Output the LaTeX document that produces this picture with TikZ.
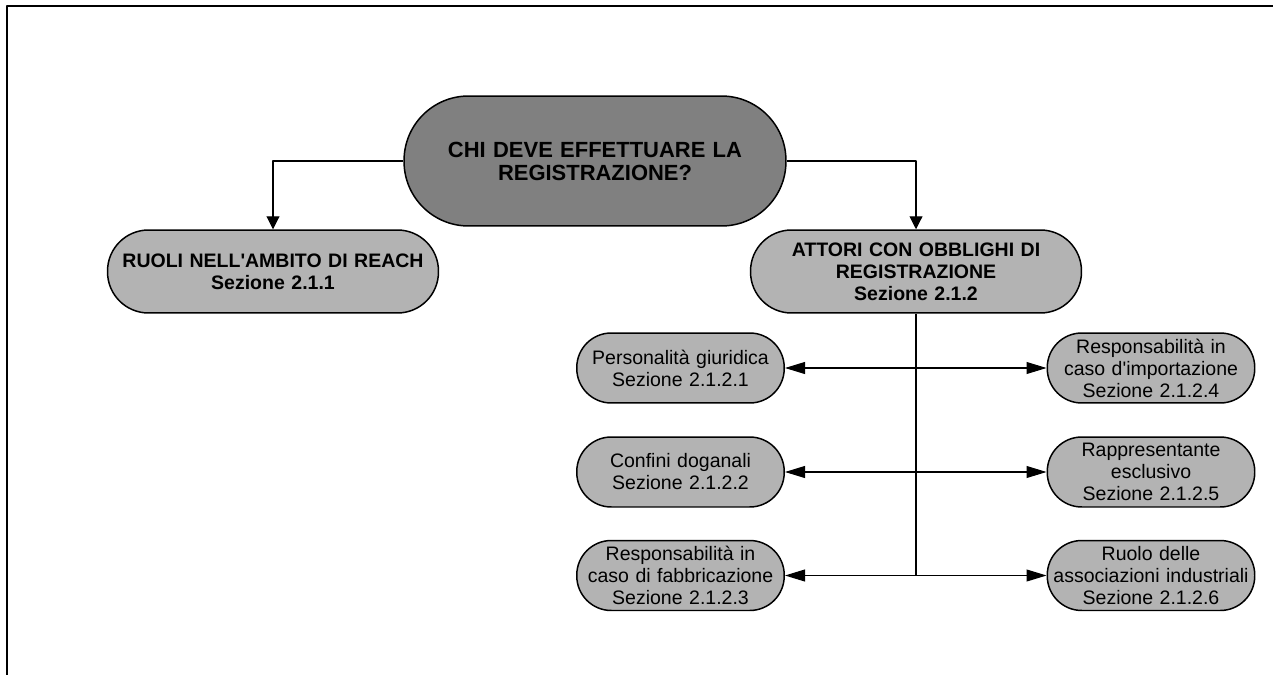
\documentclass[tikz,border=0pt]{standalone}
\usepackage{fontspec}
\newfontfamily\arialfont{Liberation Sans}
\usetikzlibrary{arrows.meta}
\definecolor{pilldark}{HTML}{808080}
\definecolor{pilllight}{HTML}{B3B3B3}
\begin{document}
\begin{tikzpicture}[x=0.02cm,y=-0.02cm,line join=round,
	font=\arialfont\fontsize{11.1}{12.5}\selectfont,
	pill/.style={draw,line width=0.85pt,fill=pilllight,inner sep=0pt,align=center},
	bigpill/.style={pill,minimum width=6.62cm,minimum height=1.66cm,rounded corners=0.82cm,text width=6.2cm,font=\arialfont\fontsize{11.1}{12.5}\selectfont\bfseries},
	smallpill/.style={pill,minimum width=4.15cm,minimum height=1.4cm,rounded corners=0.69cm,text width=4cm},
	down/.style={line width=0.6pt,-{Triangle[length=7.4pt,width=7.4pt]}},
	both/.style={line width=0.6pt,{Triangle[length=11.4pt,width=6.8pt]}-{Triangle[length=11.4pt,width=6.8pt]}}]
		\useasboundingbox (0,0) rectangle (1273,675);
		\draw[line width=1.2pt] (7,675)--(7,6)--(1273,6);
		
		\node[pill,fill=pilldark,minimum width=7.64cm,minimum height=2.6cm,rounded corners=1.29cm,text width=6.6cm,font=\arialfont\fontsize{12.5}{13.1}\selectfont\bfseries] (chi) at (595,161) {CHI DEVE EFFETTUARE LA\\REGISTRAZIONE?};
		\node[bigpill] (ruoli) at (273,271.5) {RUOLI NELL'AMBITO DI REACH\\Sezione 2.1.1};
		\node[bigpill] (attori) at (916,271.5) {ATTORI CON OBBLIGHI DI\\REGISTRAZIONE\\Sezione 2.1.2};
		
		\node[smallpill] (giur) at (680.5,368) {Personalità giuridica\\Sezione 2.1.2.1};
		\node[smallpill] (dogana) at (680.5,472) {Confini doganali\\Sezione 2.1.2.2};
		\node[smallpill] (fabbr) at (680.5,575.5) {Responsabilità in\\caso di fabbricazione\\Sezione 2.1.2.3};
		\node[smallpill] (import) at (1151,368) {Responsabilità in\\caso d'importazione\\Sezione 2.1.2.4};
		\node[smallpill] (rappr) at (1151,472) {Rappresentante\\esclusivo\\Sezione 2.1.2.5};
		\node[smallpill] (assoc) at (1151,575.5) {Ruolo delle\\associazioni industriali\\Sezione 2.1.2.6};
		
		\draw[down] (chi.west)-|(ruoli.north);
		\draw[down] (chi.east)-|(attori.north);
		\draw[line width=0.6pt] (attori.south)--(attori.south|-fabbr.east);
		\draw[both] (giur.east)--(import.west);
		\draw[both] (dogana.east)--(rappr.west);
		\draw[both] (fabbr.east)--(assoc.west);
\end{tikzpicture}
\end{document}
